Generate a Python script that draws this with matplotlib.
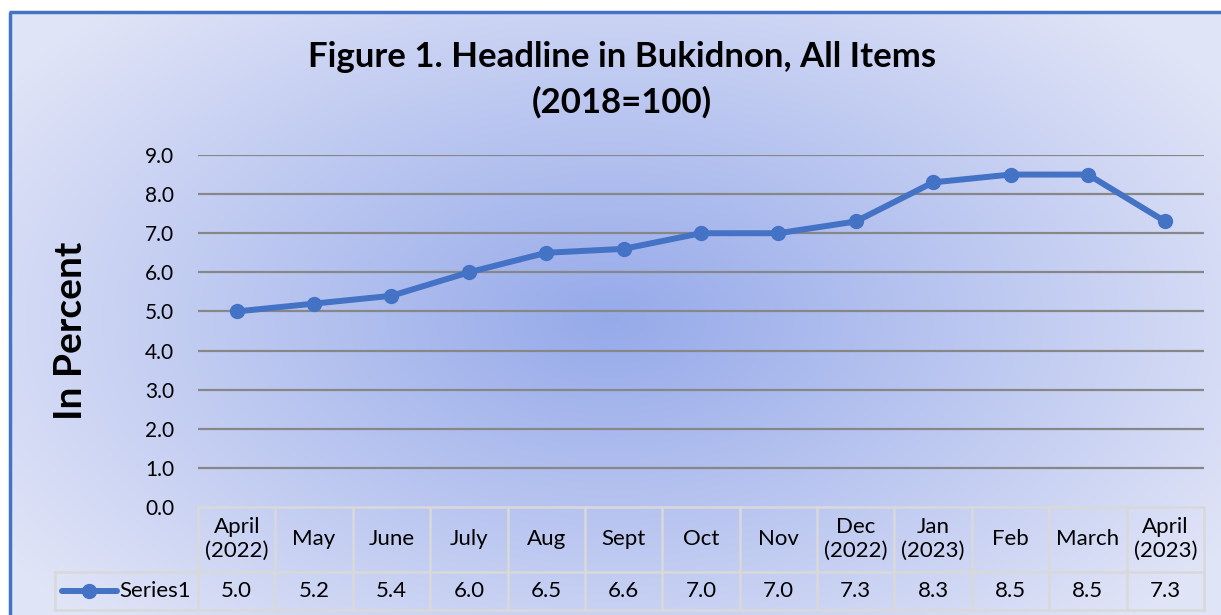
import numpy as np
import matplotlib.pyplot as plt
from matplotlib.transforms import blended_transform_factory

# data
months = ["April\n(2022)", "May", "June", "July", "Aug", "Sept", "Oct", "Nov",
          "Dec\n(2022)", "Jan\n(2023)", "Feb", "March", "April\n(2023)"]
values = [5.0, 5.2, 5.4, 6.0, 6.5, 6.6, 7.0, 7.0, 7.3, 8.3, 8.5, 8.5, 7.3]
y_ticks = [0, 1, 2, 3, 4, 5, 6, 7, 8, 9]
series_name = "Series1"

plt.rcParams['font.family'] = ['Lato', 'DejaVu Sans']

W, H = 1221, 615
blue = '#4472C4'
fig = plt.figure(figsize=(W / 100, H / 100), dpi=100)

# background with radial gradient
bg = fig.add_axes([0, 0, 1, 1])
bg.set_xlim(0, W)
bg.set_ylim(H, 0)
bg.axis('off')
xx, yy = np.meshgrid(np.arange(W) + 0.5, np.arange(H) + 0.5)
t = np.sqrt(((xx - 610) / 720) ** 2 + ((yy - 320) / 430) ** 2)
t = np.clip(t, 0, 1)[..., None]
center = np.array([150, 170, 234]) / 255
edge = np.array([224, 228, 247]) / 255
img = center * (1 - t) + edge * t
img[(xx < 10) | (yy < 12)] = 1.0
bg.imshow(img, extent=(0, W, H, 0), aspect='auto', zorder=0)
bg.plot([10, 10], [12, H], color=blue, lw=2.5, solid_capstyle='butt')
bg.plot([9, W], [12, 12], color=blue, lw=2.5, solid_capstyle='butt')

# titles
bg.text(622, 57, "Figure 1. Headline in Bukidnon, All Items", ha='center', va='center',
        fontsize=25, fontweight='bold')
bg.text(622, 102, "(2018=100)", ha='center', va='center', fontsize=25, fontweight='bold')
bg.text(70, 331, "In Percent", rotation=90, ha='center', va='center',
        fontsize=28, fontweight='bold')

# main plot
left, right, top, bottom = 198, 1204, 155, 507
ax = fig.add_axes([left / W, 1 - bottom / H, (right - left) / W, (bottom - top) / H])
ax.patch.set_alpha(0)
for s in ax.spines.values():
    s.set_visible(False)
ax.set_xlim(-0.5, len(months) - 0.5)
ax.set_ylim(0, 9)
ax.set_xticks([])
ax.set_yticks(y_ticks)
ax.set_yticklabels([f"{v:.1f}" for v in y_ticks], fontsize=15)
ax.tick_params(axis='y', length=0, pad=17)
for v in y_ticks[1:]:
    ax.axhline(v, color='#878787', lw=1.6, zorder=1)
ax.plot(range(len(values)), values, color=blue, lw=4.3, marker='o', ms=10,
        clip_on=False, zorder=3)

# data table
tr = blended_transform_factory(ax.transData, bg.transData)
grid_c = '#D9D9D9'
n = len(months)
for i in range(n + 1):
    bg.plot([i - 0.5, i - 0.5], [bottom, 610], color=grid_c, lw=1.8, transform=tr)
bg.plot([-0.5, n - 0.5], [bottom, bottom], color=grid_c, lw=1.8, transform=tr)
bg.plot([55, right], [572, 572], color=grid_c, lw=1.8)
bg.plot([55, right], [610, 610], color=grid_c, lw=1.8)
bg.plot([55, 55], [572, 610], color=grid_c, lw=1.8)
for i, (m, v) in enumerate(zip(months, values)):
    bg.text(i, 539, m, transform=tr, ha='center', va='center', fontsize=16, linespacing=1.25)
    bg.text(i, 591, f"{v:.1f}", transform=tr, ha='center', va='center', fontsize=16)

# legend key
bg.plot([62, 117], [591, 591], color=blue, lw=4.3, solid_capstyle='round')
bg.plot([89], [591], color=blue, marker='o', ms=10)
bg.text(119, 591, series_name, ha='left', va='center', fontsize=16)

fig.savefig('out.png', dpi=100)
